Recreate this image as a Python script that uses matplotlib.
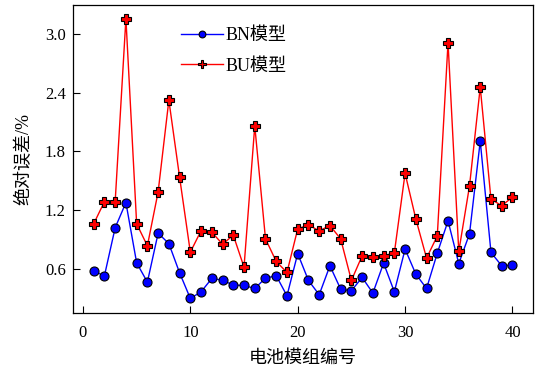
import numpy as np
import matplotlib
matplotlib.use("Agg")
import matplotlib.pyplot as plt

plt.rcParams['font.family'] = ['Liberation Serif', 'Noto Sans CJK SC']
plt.rcParams['font.size'] = 12

module_ids = np.arange(1, 41)

bn_error = [0.576, 0.529, 1.02, 1.277, 0.661, 0.464, 0.964, 0.858, 0.559, 0.297,
            0.365, 0.501, 0.484, 0.433, 0.43, 0.399, 0.505, 0.529, 0.324, 0.756,
            0.481, 0.335, 0.631, 0.392, 0.376, 0.512, 0.352, 0.658, 0.365, 0.801,
            0.546, 0.399, 0.76, 1.09, 0.654, 0.957, 1.906, 0.767, 0.631, 0.638]

bu_error = [1.06, 1.287, 1.287, 3.158, 1.06, 0.835, 1.386, 2.324, 1.536, 0.77,
            0.99, 0.974, 0.852, 0.944, 0.617, 2.062, 0.906, 0.675, 0.563, 1.008,
            1.049, 0.988, 1.042, 0.906, 0.481, 0.733, 0.722, 0.733, 0.763, 1.576,
            1.11, 0.709, 0.937, 2.913, 0.777, 1.447, 2.457, 1.311, 1.246, 1.332]

y_ticks = [0.6, 1.2, 1.8, 2.4, 3.0]
x_ticks = [0, 10, 20, 30, 40]

fig = plt.figure(figsize=(5.35, 3.76), dpi=100)
ax = fig.add_axes([0.136, 0.168, 0.86, 0.8195])

ax.plot(module_ids, bn_error, color='blue', lw=1, marker='o', ms=6.5,
        mfc='blue', mec='black', mew=0.8, label='BN模型')
ax.plot(module_ids, bu_error, color='red', lw=1, marker='P', ms=7.5,
        mfc='red', mec='black', mew=0.8, label='BU模型')

ax.set_xlim(-0.95, 41.9)
ax.set_ylim(0.15, 3.3)
ax.set_xticks(x_ticks)
ax.set_yticks(y_ticks)
ax.set_yticklabels(['%.1f' % v for v in y_ticks])
ax.tick_params(direction='in', length=5, width=0.8)
ax.tick_params(axis='x', pad=9)
ax.tick_params(axis='y', pad=5)
for s in ax.spines.values():
    s.set_linewidth(0.9)

ax.set_xlabel('电池模组编号', fontsize=13, labelpad=6)
ax.set_ylabel('绝对误差/%', fontsize=13, labelpad=9)

ax.legend(loc='upper left', bbox_to_anchor=(0.2, 0.98), frameon=False,
          fontsize=13, markerscale=0.75, handlelength=2.3,
          handletextpad=0.15, labelspacing=0.75)

fig.savefig('out.png', dpi=100)
